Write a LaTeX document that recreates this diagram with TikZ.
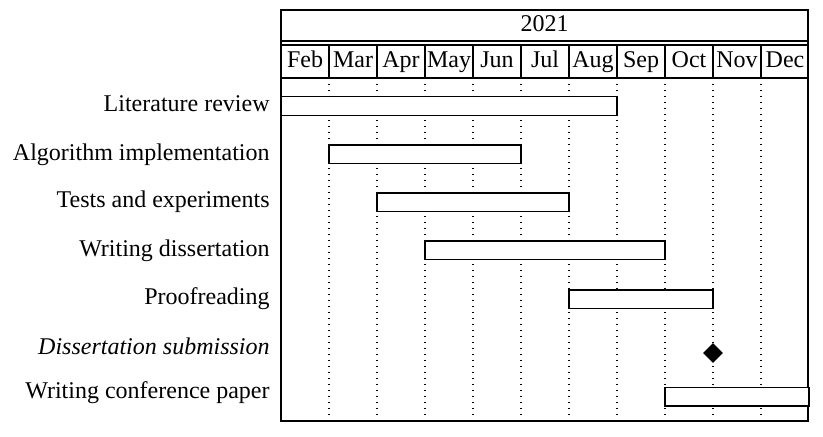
\documentclass[tikz,border=0pt]{standalone}
\usepackage{fontspec}
\setmainfont{Liberation Serif}
\usetikzlibrary{shapes.geometric}

\begin{document}
\begin{tikzpicture}[x=0.5pt, y=-0.5pt,
  every node/.style={font=\fontsize{12}{14}\selectfont, inner sep=0pt},
  frameline/.style={draw, line width=0.6pt},
  taskbar/.style={draw, fill=white, line width=0.6pt},
  gridline/.style={line width=0.6pt, dash pattern=on 0.6pt off 2.4pt},
  milestone/.style={diamond, fill=black, inner sep=0pt, minimum size=10pt},
  tasklabel/.style={anchor=base east},
]
\useasboundingbox (0,0) rectangle (823,437);

%% Grid: 11 months, 48px each, from x=281
\foreach \m in {1,...,10} {
  \draw[gridline] (281+\m*48,78) -- (281+\m*48,421);
  \draw[frameline] (281+\m*48,45) -- (281+\m*48,78);
}

%% Header
\draw[frameline] (281,10) rectangle (808,421);
\draw[frameline] (281,41) -- (808,41);
\draw[frameline] (281,45) -- (808,45);
\draw[frameline] (281,78) -- (808,78);
\node[anchor=base] (year) at (544.5,32) {2021};
\foreach \m/\lab in {0/Feb,1/Mar,2/Apr,3/May,4/Jun,5/Jul,6/Aug,7/Sep,8/Oct,9/Nov,10/Dec} {
  \node[anchor=base] (month\m) at (305+\m*48,68) {\lab};
}

%% Tasks: start month, end month, bar top, label baseline
\foreach \s/\e/\t/\b/\lab [count=\i] in {
    0/7/96.7/112/Literature review,
    1/5/145/160.7/Algorithm implementation,
    2/6/193/208/Tests and experiments,
    3/8/241/256.7/Writing dissertation,
    6/9/290/304.5/Proofreading,
    8/11/387.3/398.3/Writing conference paper} {
  \draw[taskbar] (281+\s*48,\t) rectangle (281+\e*48,\t+18.8);
  \node[tasklabel] (task\i) at (270,\b) {\lab};
}

%% Milestone
\node[milestone] (submit) at (713,353) {};
\node[tasklabel] (submitlabel) at (270,355) {\itshape Dissertation submission};

\end{tikzpicture}
\end{document}
